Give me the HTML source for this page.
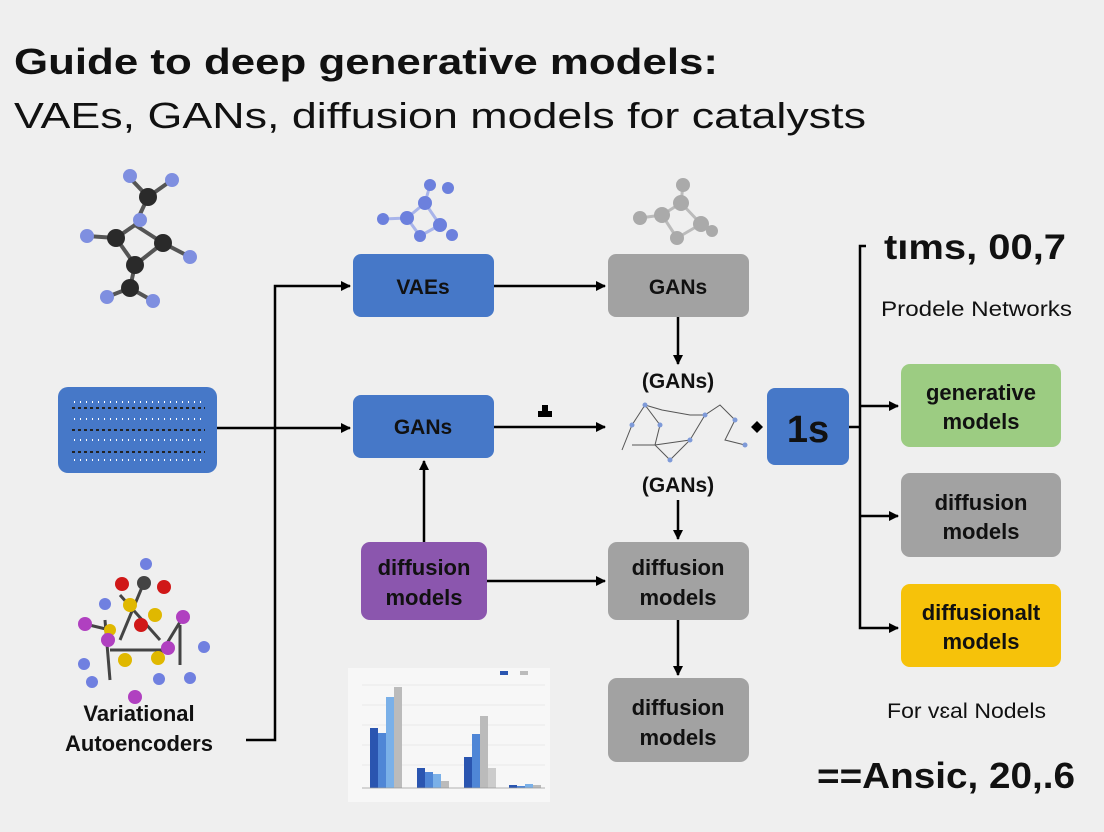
<!DOCTYPE html>
<html><head><meta charset="utf-8"><style>
html,body{margin:0;padding:0;background:#efefef;}
svg{display:block}
text{font-family:"Liberation Sans","DejaVu Sans",sans-serif;}
</style></head><body>
<svg width="1104" height="832" viewBox="0 0 1104 832" xmlns="http://www.w3.org/2000/svg">
<defs>
<marker id="a" markerWidth="10" markerHeight="10" refX="9" refY="5" orient="auto" markerUnits="userSpaceOnUse"><path d="M0,0 L10,5 L0,10 z" fill="#000"/></marker>
</defs>
<rect width="1104" height="832" fill="#efefef"/>
<text x="14" y="74" font-size="36" font-weight="bold" fill="#111" textLength="704" lengthAdjust="spacingAndGlyphs">Guide to deep generative models:</text>
<text x="14" y="128" font-size="36" fill="#111" textLength="852" lengthAdjust="spacingAndGlyphs">VAEs, GANs, diffusion models for catalysts</text>

<!-- molecules -->
<g stroke="#555" stroke-width="4">
<line x1="148" y1="197" x2="135" y2="225"/><line x1="135" y1="225" x2="116" y2="238"/><line x1="135" y1="225" x2="163" y2="243"/><line x1="116" y1="238" x2="135" y2="265"/><line x1="163" y1="243" x2="135" y2="265"/><line x1="135" y1="265" x2="130" y2="288"/><line x1="148" y1="197" x2="130" y2="178"/><line x1="148" y1="197" x2="172" y2="180"/><line x1="116" y1="238" x2="87" y2="236"/><line x1="163" y1="243" x2="190" y2="257"/><line x1="130" y1="288" x2="107" y2="297"/><line x1="130" y1="288" x2="153" y2="301"/></g>
<g fill="#2a2a2a"><circle cx="148" cy="197" r="9"/><circle cx="116" cy="238" r="9"/><circle cx="163" cy="243" r="9"/><circle cx="135" cy="265" r="9"/><circle cx="130" cy="288" r="9"/></g>
<g fill="#7f8fe0"><circle cx="130" cy="176" r="7"/><circle cx="172" cy="180" r="7"/><circle cx="140" cy="220" r="7"/><circle cx="87" cy="236" r="7"/><circle cx="190" cy="257" r="7"/><circle cx="107" cy="297" r="7"/><circle cx="153" cy="301" r="7"/></g>
<g stroke="#a8b4ea" stroke-width="3"><line x1="407" y1="218" x2="425" y2="203"/><line x1="425" y1="203" x2="440" y2="225"/><line x1="407" y1="218" x2="420" y2="236"/><line x1="420" y1="236" x2="440" y2="225"/><line x1="383" y1="219" x2="407" y2="218"/><line x1="430" y1="185" x2="425" y2="203"/></g>
<g fill="#6c80dd"><circle cx="425" cy="203" r="7"/><circle cx="407" cy="218" r="7"/><circle cx="440" cy="225" r="7"/><circle cx="420" cy="236" r="6"/><circle cx="383" cy="219" r="6"/><circle cx="452" cy="235" r="6"/><circle cx="430" cy="185" r="6"/><circle cx="448" cy="188" r="6"/></g>
<g stroke="#bbb" stroke-width="3"><line x1="662" y1="215" x2="681" y2="203"/><line x1="681" y1="203" x2="701" y2="224"/><line x1="701" y1="224" x2="677" y2="238"/><line x1="677" y1="238" x2="662" y2="215"/><line x1="640" y1="218" x2="662" y2="215"/><line x1="683" y1="185" x2="681" y2="203"/></g>
<g fill="#aaa"><circle cx="662" cy="215" r="8"/><circle cx="681" cy="203" r="8"/><circle cx="701" cy="224" r="8"/><circle cx="677" cy="238" r="7"/><circle cx="640" cy="218" r="7"/><circle cx="712" cy="231" r="6"/><circle cx="683" cy="185" r="7"/></g>
<!-- bottom-left molecule -->
<g stroke="#444" stroke-width="3"><line x1="120" y1="595" x2="160" y2="640"/><line x1="145" y1="580" x2="120" y2="640"/><line x1="110" y1="650" x2="170" y2="650"/><line x1="105" y1="620" x2="110" y2="680"/><line x1="180" y1="625" x2="180" y2="665"/><line x1="85" y1="624" x2="110" y2="630"/><line x1="183" y1="617" x2="158" y2="658"/></g>
<g fill="#e0b800"><circle cx="130" cy="605" r="7"/><circle cx="155" cy="615" r="7"/><circle cx="125" cy="660" r="7"/><circle cx="158" cy="658" r="7"/><circle cx="110" cy="630" r="6"/></g>
<g fill="#b040c0"><circle cx="85" cy="624" r="7"/><circle cx="183" cy="617" r="7"/><circle cx="135" cy="697" r="7"/><circle cx="168" cy="648" r="7"/><circle cx="108" cy="640" r="7"/></g>
<g fill="#7080e0"><circle cx="146" cy="564" r="6"/><circle cx="105" cy="604" r="6"/><circle cx="84" cy="664" r="6"/><circle cx="204" cy="647" r="6"/><circle cx="92" cy="682" r="6"/><circle cx="190" cy="678" r="6"/><circle cx="159" cy="679" r="6"/></g>
<g fill="#d01818"><circle cx="122" cy="584" r="7"/><circle cx="164" cy="587" r="7"/><circle cx="141" cy="625" r="7"/></g>
<circle cx="144" cy="583" r="7" fill="#444"/>
<text x="139" y="721" font-size="22" font-weight="bold" text-anchor="middle" fill="#111">Variational</text>
<text x="139" y="751" font-size="22" font-weight="bold" text-anchor="middle" fill="#111">Autoencoders</text>

<!-- left blue image box -->
<rect x="58" y="387" width="159" height="86" rx="10" fill="#4678c8"/>
<g stroke="#222" stroke-width="2" stroke-dasharray="3 3"><line x1="72" y1="408" x2="205" y2="408"/><line x1="72" y1="430" x2="205" y2="430"/><line x1="72" y1="452" x2="205" y2="452"/></g>
<g stroke="#fff" stroke-width="2" stroke-dasharray="1 5"><line x1="74" y1="402" x2="205" y2="402"/><line x1="74" y1="419" x2="205" y2="419"/><line x1="74" y1="440" x2="205" y2="440"/><line x1="74" y1="460" x2="205" y2="460"/></g>

<!-- connectors -->
<g stroke="#000" stroke-width="2.5" fill="none">
<line x1="217" y1="428" x2="350" y2="428" marker-end="url(#a)"/>
<polyline points="246,740 275,740 275,286 350,286" marker-end="url(#a)"/>
<line x1="494" y1="286" x2="605" y2="286" marker-end="url(#a)"/>
<line x1="494" y1="427" x2="605" y2="427" marker-end="url(#a)"/>
<line x1="424" y1="542" x2="424" y2="461" marker-end="url(#a)"/>
<line x1="487" y1="581" x2="605" y2="581" marker-end="url(#a)"/>
<line x1="678" y1="317" x2="678" y2="364" marker-end="url(#a)"/>
<line x1="678" y1="500" x2="678" y2="539" marker-end="url(#a)"/>
<line x1="678" y1="620" x2="678" y2="675" marker-end="url(#a)"/>
<line x1="849" y1="427" x2="860" y2="427"/>
<polyline points="866,246 860,246 860,628 898,628" marker-end="url(#a)"/>
<line x1="860" y1="406" x2="898" y2="406" marker-end="url(#a)"/>
<line x1="860" y1="516" x2="898" y2="516" marker-end="url(#a)"/>
</g>
<path d="M542,405 h6 v6 h4 v6 h-14 v-6 h4 z" fill="#000"/>
<path d="M751,427 l6,-6 l6,6 l-6,6 z" fill="#000"/>

<!-- boxes -->
<rect x="353" y="254" width="141" height="63" rx="8" fill="#4678c8"/>
<text x="423" y="294" font-size="21" font-weight="bold" text-anchor="middle" fill="#111">VAEs</text>
<rect x="353" y="395" width="141" height="63" rx="8" fill="#4678c8"/>
<text x="423" y="434" font-size="21" font-weight="bold" text-anchor="middle" fill="#111">GANs</text>
<rect x="608" y="254" width="141" height="63" rx="8" fill="#a2a2a2"/>
<text x="678" y="294" font-size="21" font-weight="bold" text-anchor="middle" fill="#111">GANs</text>
<rect x="361" y="542" width="126" height="78" rx="9" fill="#8b56ae"/>
<text x="424" y="575" font-size="22" font-weight="bold" text-anchor="middle" fill="#111">diffusion</text>
<text x="424" y="605" font-size="22" font-weight="bold" text-anchor="middle" fill="#111">models</text>
<rect x="608" y="542" width="141" height="78" rx="9" fill="#a2a2a2"/>
<text x="678" y="575" font-size="22" font-weight="bold" text-anchor="middle" fill="#111">diffusion</text>
<text x="678" y="605" font-size="22" font-weight="bold" text-anchor="middle" fill="#111">models</text>
<rect x="608" y="678" width="141" height="84" rx="9" fill="#a2a2a2"/>
<text x="678" y="715" font-size="22" font-weight="bold" text-anchor="middle" fill="#111">diffusion</text>
<text x="678" y="745" font-size="22" font-weight="bold" text-anchor="middle" fill="#111">models</text>

<text x="678" y="388" font-size="21" font-weight="bold" text-anchor="middle" fill="#111">(GANs)</text>
<text x="678" y="492" font-size="21" font-weight="bold" text-anchor="middle" fill="#111">(GANs)</text>
<!-- mesh molecule -->
<g stroke="#555" stroke-width="1" fill="none"><polyline points="622,450 632,425 645,405 660,425 655,445 670,460 690,440 705,415 720,405 735,420 725,440 745,445"/><polyline points="645,405 662,410 690,415 705,415"/><polyline points="632,445 655,445 690,440"/></g>
<g fill="#7e9ad8"><circle cx="632" cy="425" r="2.5"/><circle cx="645" cy="405" r="2.5"/><circle cx="660" cy="425" r="2.5"/><circle cx="690" cy="440" r="2.5"/><circle cx="705" cy="415" r="2.5"/><circle cx="735" cy="420" r="2.5"/><circle cx="745" cy="445" r="2.5"/><circle cx="670" cy="460" r="2.5"/></g>

<rect x="767" y="388" width="82" height="77" rx="8" fill="#4678c8"/>
<text x="808" y="442" font-size="38" font-weight="bold" text-anchor="middle" fill="#111">1s</text>

<text x="884" y="259" font-size="35" font-weight="bold" fill="#111" textLength="182" lengthAdjust="spacingAndGlyphs">tıms, 00,7</text>
<text x="881" y="316" font-size="21" fill="#111" textLength="191" lengthAdjust="spacingAndGlyphs">Prodele Networks</text>
<rect x="901" y="364" width="160" height="83" rx="9" fill="#9ccc82"/>
<text x="981" y="400" font-size="22" font-weight="bold" text-anchor="middle" fill="#111">generative</text>
<text x="981" y="429" font-size="22" font-weight="bold" text-anchor="middle" fill="#111">models</text>
<rect x="901" y="473" width="160" height="84" rx="9" fill="#a2a2a2"/>
<text x="981" y="510" font-size="22" font-weight="bold" text-anchor="middle" fill="#111">diffusion</text>
<text x="981" y="539" font-size="22" font-weight="bold" text-anchor="middle" fill="#111">models</text>
<rect x="901" y="584" width="160" height="83" rx="9" fill="#f6c20a"/>
<text x="981" y="620" font-size="22" font-weight="bold" text-anchor="middle" fill="#111">diffusionalt</text>
<text x="981" y="649" font-size="22" font-weight="bold" text-anchor="middle" fill="#111">models</text>
<text x="887" y="718" font-size="21" fill="#111" textLength="159" lengthAdjust="spacingAndGlyphs">For vɛal Nodels</text>
<text x="817" y="788" font-size="36" font-weight="bold" fill="#111" textLength="258" lengthAdjust="spacingAndGlyphs">==Ansic, 20,.6</text>

<!-- chart -->
<rect x="348" y="668" width="202" height="134" fill="#f7f7f7"/>
<g stroke="#ddd" stroke-width="0.5"><line x1="362" y1="685" x2="545" y2="685"/><line x1="362" y1="705" x2="545" y2="705"/><line x1="362" y1="725" x2="545" y2="725"/><line x1="362" y1="745" x2="545" y2="745"/><line x1="362" y1="765" x2="545" y2="765"/></g>
<rect x="370" y="728" width="8" height="60" fill="#2a55b0"/><rect x="378" y="733" width="8" height="55" fill="#4f86d6"/><rect x="386" y="697" width="8" height="91" fill="#7ab0e8"/><rect x="394" y="687" width="8" height="101" fill="#bbb"/>
<rect x="417" y="768" width="8" height="20" fill="#2a55b0"/><rect x="425" y="772" width="8" height="16" fill="#4f86d6"/><rect x="433" y="774" width="8" height="14" fill="#7ab0e8"/><rect x="441" y="781" width="8" height="7" fill="#bbb"/>
<rect x="464" y="757" width="8" height="31" fill="#2a55b0"/><rect x="472" y="734" width="8" height="54" fill="#4f86d6"/><rect x="480" y="716" width="8" height="72" fill="#bbb"/><rect x="488" y="768" width="8" height="20" fill="#ccc"/>
<rect x="509" y="785" width="8" height="3" fill="#2a55b0"/><rect x="517" y="786" width="8" height="2" fill="#4f86d6"/><rect x="525" y="784" width="8" height="4" fill="#7ab0e8"/><rect x="533" y="785" width="8" height="3" fill="#bbb"/>
<rect x="500" y="671" width="8" height="4" fill="#2a55b0"/><rect x="520" y="671" width="8" height="4" fill="#bbb"/>
<line x1="362" y1="788" x2="545" y2="788" stroke="#999" stroke-width="0.7"/>
</svg>
</body></html>
